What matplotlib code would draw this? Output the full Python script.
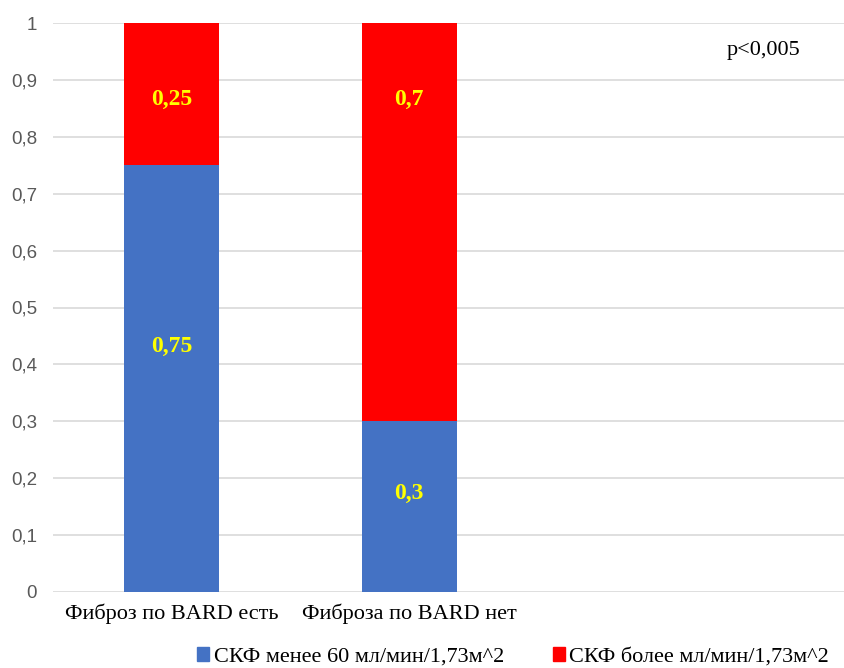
"""Stacked share of GFR groups by BARD fibrosis status."""

import matplotlib
matplotlib.use("Agg")
import matplotlib.pyplot as plt
from matplotlib.patches import Patch

CATEGORIES = ["Фиброз по BARD есть", "Фиброза по BARD нет"]
LOW_GFR = [0.75, 0.3]
HIGH_GFR = [0.25, 0.7]
LOW_LABELS = ["0,75", "0,3"]
HIGH_LABELS = ["0,25", "0,7"]
SERIES_NAMES = ["СКФ менее 60 мл/мин/1,73м^2", "СКФ более мл/мин/1,73м^2"]
YTICKS = [0, 0.1, 0.2, 0.3, 0.4, 0.5, 0.6, 0.7, 0.8, 0.9, 1.0]
YTICK_LABELS = ["0", "0,1", "0,2", "0,3", "0,4", "0,5", "0,6", "0,7", "0,8", "0,9", "1"]

# where the value labels sit (they are not centred in the segments)
LOW_LABEL_Y = [0.432, 0.174]
HIGH_LABEL_Y = [0.866, 0.866]

BLUE = "#4472C4"
RED = "#FF0000"
SERIF = "Liberation Serif"


def main() -> None:
  fig = plt.figure(figsize=(8.44, 6.68), dpi=100)
  ax = fig.add_axes([53 / 844, 76 / 668, 1 - 53 / 844, 569 / 668])

  x = list(range(len(CATEGORIES)))
  ax.bar(x, LOW_GFR, width=0.4, color=BLUE, zorder=2)
  ax.bar(x, HIGH_GFR, width=0.4, bottom=LOW_GFR, color=RED, zorder=2)

  for xi, lab, yy in zip(x, LOW_LABELS, LOW_LABEL_Y):
    ax.text(xi, yy, lab, ha="center", va="center", color="#FFFF00",
            fontsize=17, fontweight="bold", family=SERIF, zorder=3)
  for xi, lab, yy in zip(x, HIGH_LABELS, HIGH_LABEL_Y):
    ax.text(xi, yy, lab, ha="center", va="center", color="#FFFF00",
            fontsize=17, fontweight="bold", family=SERIF, zorder=3)

  ax.set_xlim(-0.5, 2.83)
  ax.set_ylim(0, 1)
  ax.set_yticks(YTICKS)
  ax.set_yticklabels(YTICK_LABELS, color="#595959", fontsize=13.5,
                     family="Liberation Sans")
  ax.set_xticks(x)
  ax.set_xticklabels(CATEGORIES, fontsize=16, family=SERIF, color="black")
  ax.tick_params(axis="both", length=0)
  ax.tick_params(axis="y", pad=11.5)
  ax.tick_params(axis="x", pad=8)
  ax.grid(axis="y", color="#D9D9D9", lw=1.2, zorder=0)
  for s in ax.spines.values():
    s.set_visible(False)

  fig.text(727 / 844, 1 - 50 / 668, "p<0,005", fontsize=16, family=SERIF,
           va="center", ha="left")

  handles = [Patch(color=BLUE), Patch(color=RED)]
  fig.legend(handles, SERIES_NAMES, loc="center", bbox_to_anchor=(513 / 844, 1 - 657 / 668),
             ncol=2, frameon=False, prop={"family": SERIF, "size": 16},
             handlelength=0.55, handleheight=0.55, handletextpad=0.2, columnspacing=2.2)

  fig.savefig("out.png", dpi=100)


if __name__ == "__main__":
  main()
